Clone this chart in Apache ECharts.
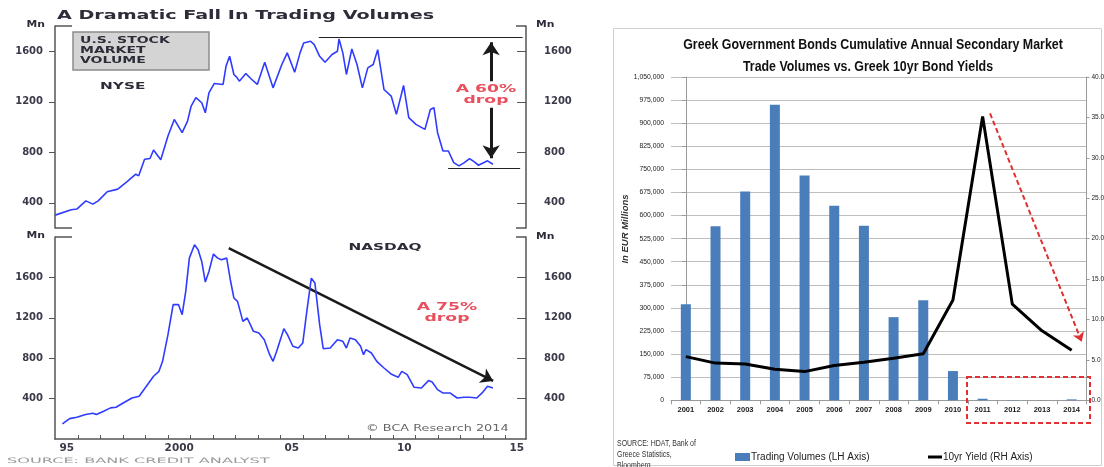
<!DOCTYPE html>
<html><head><meta charset="utf-8">
<script src="https://cdn.jsdelivr.net/npm/echarts@6/dist/echarts.min.js"></script>
<style>html,body{margin:0;padding:0;background:#fff}#c{width:1104px;height:467px}</style>
</head><body><div id="c"></div>
<script>
// ---- US stock market volume (BCA) ----
const nyseYears = [1994.49,1995.2,1995.45,1995.85,1996.16,1996.4,1996.8,1997.27,1997.67,1998.07,1998.2,1998.46,1998.7,1998.86,1999.18,1999.5,1999.78,2000.13,2000.37,2000.53,2000.74,2001.0,2001.16,2001.32,2001.56,2001.95,2002.08,2002.24,2002.43,2002.55,2002.67,2002.96,2003.2,2003.47,2003.8,2004.17,2004.56,2004.8,2005.13,2005.37,2005.53,2005.84,2006.0,2006.24,2006.48,2006.79,2007.03,2007.1,2007.27,2007.43,2007.67,2007.9,2008.14,2008.38,2008.62,2008.82,2009.1,2009.42,2009.65,2009.97,2010.2,2010.52,2010.92,2011.16,2011.32,2011.48,2011.72,2011.96,2012.2,2012.43,2012.67,2012.9,2013.1,2013.3,2013.5,2013.7,2013.94];
const nyseVolumes = [302,345,350,415,389,415,487,508,566,626,613,745,750,818,740,929,1060,955,1047,1166,1232,1192,1113,1271,1345,1337,1482,1560,1416,1395,1363,1424,1380,1337,1513,1310,1495,1587,1434,1587,1666,1679,1653,1560,1513,1574,1600,1697,1587,1416,1618,1495,1310,1468,1495,1613,1297,1245,1100,1329,1074,1021,981,1139,1153,955,810,810,718,692,718,750,725,697,715,732,705];
const nasdaqYears = [1994.81,1995.13,1995.45,1995.84,1996.16,1996.32,1996.64,1996.95,1997.19,1997.51,1997.9,1998.22,1998.38,1998.7,1998.86,1999.1,1999.26,1999.5,1999.73,1999.97,2000.13,2000.29,2000.45,2000.68,2000.84,2001.0,2001.16,2001.32,2001.52,2001.71,2001.87,2002.11,2002.27,2002.43,2002.59,2002.83,2003.02,2003.3,2003.54,2003.78,2004.02,2004.17,2004.33,2004.65,2004.81,2005.05,2005.29,2005.49,2005.68,2005.87,2006.03,2006.24,2006.4,2006.71,2007.03,2007.27,2007.43,2007.59,2007.83,2008.06,2008.19,2008.3,2008.54,2008.78,2009.1,2009.41,2009.73,2009.89,2010.13,2010.44,2010.76,2011.08,2011.24,2011.48,2011.71,2012.03,2012.35,2012.67,2012.9,2013.22,2013.46,2013.7,2013.94];
const nasdaqVolumes = [149,202,215,242,255,242,275,308,314,357,406,423,472,571,621,670,769,1033,1330,1330,1231,1462,1791,1923,1874,1758,1554,1659,1831,1791,1775,1791,1577,1396,1363,1165,1198,1066,1049,983,835,769,868,1092,1033,918,901,950,1280,1593,1544,1132,894,901,983,967,901,1000,983,918,835,885,852,769,703,644,611,670,637,512,505,578,565,489,456,456,406,413,413,406,456,522,505];
const usTickValues = [400, 800, 1200, 1600];
const usYearLabels = [1995, 2000, 2005, 2010, 2015];
const usYearTicks = [1995.5,1996.5,1997.5,1998.5,1999.5,2000.5,2001.5,2002.5,2003.5,2004.5,2005.5,2006.5,2007.5,2008.5,2009.5,2010.5,2011.5,2012.5,2013.5,2014.5];
const nyseTopLine = [[2006.2, 1710], [2015.26, 1710]];
const nyseBottomLine = [[2011.95, 672], [2015.15, 672]];
const nyseUpArrow = [[2013.86, 1363], [2013.86, 1672]];
const nyseDownArrow = [[2013.86, 1153], [2013.86, 752]];
const nasdaqArrow = [[2002.2, 1890], [2013.95, 575]];

// ---- Greek government bonds ----
const greekYears = ['2001','2002','2003','2004','2005','2006','2007','2008','2009','2010','2011','2012','2013','2014'];
const greekVolumes = [312000,565000,678000,960000,730000,632000,567000,270000,325000,95000,5000,800,500,3000];
const greekYields = [5.4,4.6,4.5,3.85,3.55,4.3,4.7,5.2,5.75,12.4,35.1,11.9,8.6,6.2];
const greekArrow = [[10.25, 35.5], [13.34, 7.25]];

const zip = (a, b) => a.map((v, i) => [v, b[i]]);

const chart = echarts.init(document.getElementById('c'), null, {renderer: 'canvas'});
const axisCol = '#555';
const usLabel = {color: '#3a3a4a', fontWeight: 'bold', fontSize: 10, fontFamily: 'DejaVu Sans'};
const sans = '"Liberation Sans", Arial, sans-serif';

function usY(grid, min, max, pos) {
  const right = pos === 'right';
  return {
    gridIndex: grid, type: 'value', min: min, max: max, position: pos,
    axisLine: {show: true, lineStyle: {color: axisCol, width: 1.5}},
    axisTick: {show: true, customValues: usTickValues, inside: right, length: right ? 9 : 6, lineStyle: {color: axisCol, width: 1}},
    axisLabel: Object.assign({customValues: usTickValues, margin: right ? 18 : 12, align: right ? 'left' : 'right',
      formatter: v => String(v)}, usLabel),
    splitLine: {show: false}
  };
}

function txt(t, x, y, font, fill, sx, align, extra) {
  return Object.assign({type: 'text', x: x, y: y, scaleX: sx || 1, silent: true,
    style: {text: t, x: 0, y: 0, font: font, fill: fill, textAlign: align || 'left', textVerticalAlign: 'middle'}}, extra || {});
}
function seg(x1, y1, x2, y2, col, w) {
  return {type: 'line', silent: true, shape: {x1: x1, y1: y1, x2: x2, y2: y2}, style: {stroke: col || axisCol, lineWidth: w || 1.5}};
}

const bcaSmall = 'bold 8.5px "DejaVu Sans"';
const option = {
  animation: false,
  backgroundColor: '#fff',
  grid: [
    {left: 55, top: 26, width: 471, height: 202, outerBoundsMode: 'none', containLabel: false},
    {left: 55, top: 237, width: 471, height: 202, outerBoundsMode: 'none', containLabel: false},
    {left: 671, top: 77, width: 415.5, height: 323.3, outerBoundsMode: 'none', containLabel: false}
  ],
  xAxis: [
    {gridIndex: 0, type: 'value', min: 1994.48, max: 2015.41, show: false},
    {gridIndex: 1, type: 'value', min: 1994.48, max: 2015.41,
      axisLine: {show: true, lineStyle: {color: axisCol, width: 1.5}},
      axisTick: {show: true, customValues: usYearTicks, inside: true, length: 4, lineStyle: {color: axisCol}},
      axisLabel: {customValues: usYearLabels, margin: 4, fontSize: 10.5, color: '#3a3a4a', fontWeight: 'bold', fontFamily: 'DejaVu Sans',
        formatter: v => (v === 2000 ? '2000' : String(v).slice(2))},
      splitLine: {show: false}},
    {gridIndex: 2, type: 'category', data: greekYears,
      axisLine: {show: true, lineStyle: {color: '#9a9a9a', width: 1}},
      axisTick: {show: true, length: 4, lineStyle: {color: '#9a9a9a'}},
      axisLabel: {margin: 6, color: '#1a1a1a', fontWeight: 'bold', fontSize: 7.5, fontFamily: sans}},
    {gridIndex: 2, type: 'value', min: -0.5, max: 13.5, show: false}
  ],
  yAxis: [
    usY(0, 200, 1800, 'left'), usY(0, 200, 1800, 'right'),
    usY(1, 0, 2000, 'left'), usY(1, 0, 2000, 'right'),
    {gridIndex: 2, type: 'value', min: 0, max: 1050000, interval: 75000, position: 'left',
      axisLine: {show: true, lineStyle: {color: '#9a9a9a'}},
      axisTick: {show: true, length: 4, lineStyle: {color: '#9a9a9a'}},
      axisLabel: {margin: 7, fontSize: 6.8, color: '#1a1a1a', fontFamily: sans, formatter: v => v.toLocaleString('en-US')},
      splitLine: {show: true, lineStyle: {color: '#bdbdbd', width: 1}}},
    {gridIndex: 2, type: 'value', min: 0, max: 40, interval: 5, position: 'right',
      axisLine: {show: true, lineStyle: {color: '#9a9a9a'}},
      axisTick: {show: true, length: 3, lineStyle: {color: '#9a9a9a'}},
      axisLabel: {margin: 5, fontSize: 6.5, color: '#1a1a1a', fontFamily: sans, formatter: v => v.toFixed(1)},
      splitLine: {show: false}}
  ],
  legend: [
    {data: [{name: 'Trading Volumes (LH Axis)', icon: 'rect'}], left: 735, top: 452, padding: 0, itemWidth: 15, itemHeight: 8,
      selectedMode: false, textStyle: {fontFamily: sans, fontSize: 10, color: '#222', padding: [0, 0, 0, -4]}},
    {data: [{name: '10yr Yield (RH Axis)', icon: 'rect'}], left: 928, top: 452, padding: 0, itemWidth: 14, itemHeight: 3,
      selectedMode: false, textStyle: {fontFamily: sans, fontSize: 10, color: '#222', padding: [0, 0, 0, -4]}}
  ],
  series: [
    {name: 'NYSE', type: 'line', xAxisIndex: 0, yAxisIndex: 0, data: zip(nyseYears, nyseVolumes), showSymbol: false,
      lineStyle: {color: '#2f3cff', width: 1.6}, z: 3},
    {name: 'NASDAQ', type: 'line', xAxisIndex: 1, yAxisIndex: 2, data: zip(nasdaqYears, nasdaqVolumes), showSymbol: false,
      lineStyle: {color: '#2f3cff', width: 1.6}, z: 3},
    {type: 'lines', coordinateSystem: 'cartesian2d', xAxisIndex: 0, yAxisIndex: 0, symbol: 'none',
      lineStyle: {color: '#222', width: 1.2, opacity: 1}, data: [{coords: nyseTopLine}, {coords: nyseBottomLine}]},
    {type: 'lines', coordinateSystem: 'cartesian2d', xAxisIndex: 0, yAxisIndex: 0, symbol: ['none', 'arrow'], symbolSize: 13,
      lineStyle: {color: '#1a1a1a', width: 3, opacity: 1}, data: [{coords: nyseUpArrow}, {coords: nyseDownArrow}]},
    {type: 'lines', coordinateSystem: 'cartesian2d', xAxisIndex: 1, yAxisIndex: 2, symbol: ['none', 'arrow'], symbolSize: 12,
      lineStyle: {color: '#1a1a1a', width: 2.5, opacity: 1}, data: [{coords: nasdaqArrow}]},
    {name: 'Trading Volumes (LH Axis)', type: 'bar', xAxisIndex: 2, yAxisIndex: 4, data: greekVolumes, barWidth: 10,
      itemStyle: {color: '#4a7ebb'}},
    {name: '10yr Yield (RH Axis)', type: 'line', xAxisIndex: 2, yAxisIndex: 5, data: greekYields, showSymbol: false,
      itemStyle: {color: '#000'}, lineStyle: {color: '#000', width: 3}, z: 4},
    {type: 'lines', coordinateSystem: 'cartesian2d', xAxisIndex: 3, yAxisIndex: 5, symbol: ['none', 'arrow'], symbolSize: 9,
      lineStyle: {color: '#e0302f', width: 2, type: [5, 3], opacity: 1}, data: [{coords: greekArrow}], z: 5}
  ],
  graphic: [
    txt('A Dramatic Fall In Trading Volumes', 57, 16, 'bold 12.5px "DejaVu Sans"', '#2d2d3a', 1.53),
    {type: 'rect', silent: true, shape: {x: 73, y: 32, width: 136, height: 38}, style: {fill: '#d4d4d4', stroke: '#8c8c8c', lineWidth: 1.5}},
    txt('U.S. STOCK', 80, 41, bcaSmall, '#2d2d3a', 1.65),
    txt('MARKET', 80, 51, bcaSmall, '#2d2d3a', 1.65),
    txt('VOLUME', 80, 60.5, bcaSmall, '#2d2d3a', 1.65),
    txt('NYSE', 100, 87, bcaSmall, '#2d2d3a', 1.8),
    txt('NASDAQ', 385, 248, bcaSmall, '#2d2d3a', 1.8, 'center'),
    txt('A 60%', 486, 89, 'bold 10px "DejaVu Sans"', '#e8505e', 1.72, 'center'),
    txt('drop', 486, 100.5, 'bold 10px "DejaVu Sans"', '#e8505e', 1.72, 'center'),
    txt('A 75%', 447, 307, 'bold 10px "DejaVu Sans"', '#e8505e', 1.72, 'center'),
    txt('drop', 447, 318.5, 'bold 10px "DejaVu Sans"', '#e8505e', 1.72, 'center'),
    txt('\u00a9 BCA Research 2014', 366, 429, '8px "DejaVu Sans"', '#666', 1.6),
    txt('SOURCE: BANK CREDIT ANALYST', 7, 461.5, '7.5px "DejaVu Sans"', '#9a9a9a', 2.15),
    txt('Mn', 45, 25, 'bold 8px "DejaVu Sans"', '#2d2d3a', 1.35, 'right'),
    txt('Mn', 536, 25, 'bold 8px "DejaVu Sans"', '#2d2d3a', 1.35),
    txt('Mn', 45, 236, 'bold 8px "DejaVu Sans"', '#2d2d3a', 1.35, 'right'),
    txt('Mn', 536, 237, 'bold 8px "DejaVu Sans"', '#2d2d3a', 1.35),
    seg(55, 26, 72, 26), seg(55, 228, 72, 228), seg(516, 26, 526, 26), seg(516, 228, 526, 228),
    seg(55, 237, 72, 237), seg(516, 237, 526, 237),
    // right panel
    {type: 'rect', silent: true, shape: {x: 613.5, y: 28.5, width: 488, height: 437}, style: {fill: 'none', stroke: '#cfcfcf', lineWidth: 1}},
    txt('Greek Government Bonds Cumulative Annual Secondary Market', 873, 45, 'bold 15.5px ' + sans, '#111', 0.8, 'center'),
    txt('Trade Volumes vs. Greek 10yr Bond Yields', 868, 66.5, 'bold 15.5px ' + sans, '#111', 0.8, 'center'),
    txt('In EUR Millions', 625, 229, 'italic bold 9.5px ' + sans, '#333', 1, 'center', {rotation: Math.PI / 2}),
    txt('SOURCE: HDAT, Bank of', 617, 443.5, '8.5px ' + sans, '#333', 0.82),
    txt('Greece Statistics,', 617, 454.5, '8.5px ' + sans, '#333', 0.82),
    txt('Bloomberg', 617, 465.5, '8.5px ' + sans, '#333', 0.82),
    {type: 'rect', silent: true, z: 10, shape: {x: 967, y: 377, width: 123, height: 46},
      style: {fill: 'none', stroke: '#e0302f', lineWidth: 2, lineDash: [5, 3]}}
  ]
};
chart.setOption(option);
</script></body></html>
